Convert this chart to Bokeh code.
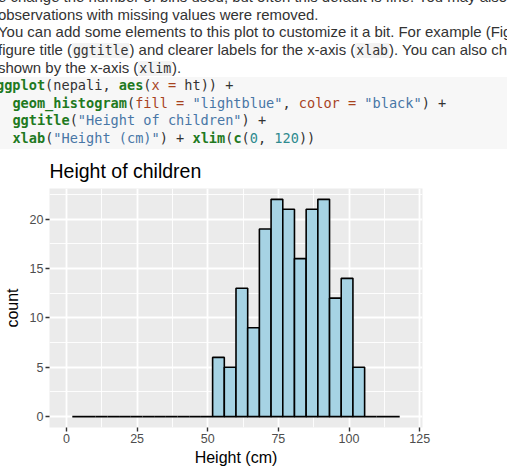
from bokeh.plotting import figure
from bokeh.models import Div, FixedTicker
from bokeh.layouts import column
from bokeh.embed import file_html
from bokeh.resources import INLINE

# ---------------- data ----------------
title_text = "Height of children"
x_label = "Height (cm)"
y_label = "count"
x_limits = [0, 120]
n_bins = 30
# counts of the bins shown (ggplot 30 bins over xlim, first/last bin dropped)
counts = [0, 0, 0, 0, 0, 0, 0, 0, 0, 0, 0, 0,
          6, 5, 13, 9, 19, 22, 21, 16, 21, 22, 12, 14, 5,
          0, 0, 0]
x_ticks = [0, 25, 50, 75, 100, 125]
x_minor = [12.5, 37.5, 62.5, 87.5, 112.5]
y_ticks = [0, 5, 10, 15, 20]
y_minor = [2.5, 7.5, 12.5, 17.5, 22.5]

body_lines = [
    [("e change the number of bins used, but often this default is fine. You may also notice that", False)],
    [("observations with missing values were removed.", False)],
    [("You can add some elements to this plot to customize it a bit. For example (Figure 2.2), we add a", False)],
    [("figure title (", False), ("ggtitle", True), (") and clearer labels for the x-axis (", False),
     ("xlab", True), ("). You can also change the range of values", False)],
    [("shown by the x-axis (", False), ("xlim", True), (").", False)],
]

code_lines = [
    [("ggplot", "fn"), ("(nepali, ", "pl"), ("aes", "fn"), ("(", "pl"), ("x =", "ar"), (" ht)) +", "pl")],
    [("  ", "pl"), ("geom_histogram", "fn"), ("(", "pl"), ("fill =", "ar"), (" ", "pl"),
     ("&quot;lightblue&quot;", "st"), (", ", "pl"), ("color =", "ar"), (" ", "pl"),
     ("&quot;black&quot;", "st"), (") +", "pl")],
    [("  ", "pl"), ("ggtitle", "fn"), ("(", "pl"), ("&quot;Height of children&quot;", "st"), (") +", "pl")],
    [("  ", "pl"), ("xlab", "fn"), ("(", "pl"), ("&quot;Height (cm)&quot;", "st"), (") + ", "pl"),
     ("xlim", "fn"), ("(", "pl"), ("c", "fn"), ("(", "pl"), ("0", "nu"), (", ", "pl"),
     ("120", "nu"), ("))", "pl")],
]

# ---------------- text block (HTML) ----------------
code_style = {
    "fn": "color:#1f7a1f;font-weight:bold;",
    "ar": "color:#a8431f;",
    "st": "color:#4876a6;",
    "nu": "color:#2f8a8f;",
    "pl": "color:#333333;",
}
mono = "'DejaVu Sans Mono', monospace"
sans = "'Liberation Sans', Arial, sans-serif"

parts = []
body_tops = [-12.4, 5.6, 23.4, 41.3, 59.2]
for top, segs in zip(body_tops, body_lines):
    html = ""
    for txt, is_code in segs:
        if is_code:
            html += (f"<span style=\"font-family:{mono};font-size:13.2px;background:#f3f3f3;"
                     f"padding:0 1px;\">{txt}</span>")
        else:
            html += txt
    parts.append(f"<div style=\"position:absolute;left:-2px;top:{top}px;white-space:nowrap;"
                 f"font-family:{sans};font-size:14.95px;line-height:18px;color:#333333;\">{html}</div>")

parts.append("<div style=\"position:absolute;left:0px;top:77px;width:507px;height:72px;"
             "background:#f7f7f7;\"></div>")
code_tops = [77.05, 94.75, 112.45, 130.15]
for top, segs in zip(code_tops, code_lines):
    html = "".join(f"<span style=\"{code_style[k]}\">{t}</span>" for t, k in segs)
    parts.append(f"<div style=\"position:absolute;left:-4px;top:{top}px;white-space:pre;"
                 f"font-family:{mono};font-size:13.6px;line-height:17.7px;\">{html}</div>")

div_html = ("<div style=\"position:relative;width:507px;height:150px;overflow:hidden;\">"
            + "".join(parts) + "</div>")

div = Div(text=div_html, width=507, height=150, margin=0)

# ---------------- histogram ----------------
bin_w = (x_limits[1] - x_limits[0]) / (n_bins - 1)
centers = [x_limits[0] + k * bin_w for k in range(1, len(counts) + 1)]
lefts = [c - bin_w / 2 for c in centers]
rights = [c + bin_w / 2 for c in centers]

p = figure(width=507, height=321, x_range=(-6, 126), y_range=(-1.1, 23.1),
           output_backend="svg", toolbar_location=None, title=title_text,
           min_border_left=48, min_border_right=85, min_border_top=37, min_border_bottom=44,
           margin=0)
p.background_fill_color = "#EBEBEB"
p.border_fill_color = "white"
p.outline_line_color = None

p.title.align = "left"
p.title.text_font = "Liberation Sans"
p.title.text_font_size = "19.5px"
p.title.text_font_style = "normal"
p.title.text_color = "black"
p.title.standoff = 14
p.title.offset = 0

xt = FixedTicker(ticks=x_ticks, minor_ticks=x_minor)
yt = FixedTicker(ticks=y_ticks, minor_ticks=y_minor)
p.xaxis.ticker = xt
p.yaxis.ticker = yt
p.xgrid.ticker = xt
p.ygrid.ticker = yt

for ax in (p.xaxis[0], p.yaxis[0]):
    ax.axis_line_color = None
    ax.major_tick_line_color = "#333333"
    ax.major_tick_line_width = 1.4
    ax.major_tick_out = 4
    ax.major_tick_in = 0
    ax.minor_tick_out = 0
    ax.minor_tick_in = 0
    ax.major_label_text_color = "#4D4D4D"
    ax.major_label_text_font = "Liberation Sans"
    ax.major_label_text_font_size = "12.5px"
    ax.major_label_standoff = 2
    ax.axis_label_text_font = "Liberation Sans"
    ax.axis_label_text_font_size = "16px"
    ax.axis_label_text_font_style = "normal"
    ax.axis_label_text_color = "black"

p.xaxis.axis_label = x_label
p.xaxis.axis_label_standoff = 3
p.yaxis.axis_label = y_label
p.yaxis.axis_label_standoff = 6

for g in (p.xgrid[0], p.ygrid[0]):
    g.grid_line_color = "white"
    g.grid_line_width = 1.8
    g.minor_grid_line_color = "white"
    g.minor_grid_line_width = 0.9

p.quad(left=lefts, right=rights, bottom=0, top=counts,
       fill_color="#A6D3E4", line_color="black", line_width=1.6)

layout = column(div, p, spacing=0, margin=0)

open("out.html", "w").write(file_html(layout, INLINE))
